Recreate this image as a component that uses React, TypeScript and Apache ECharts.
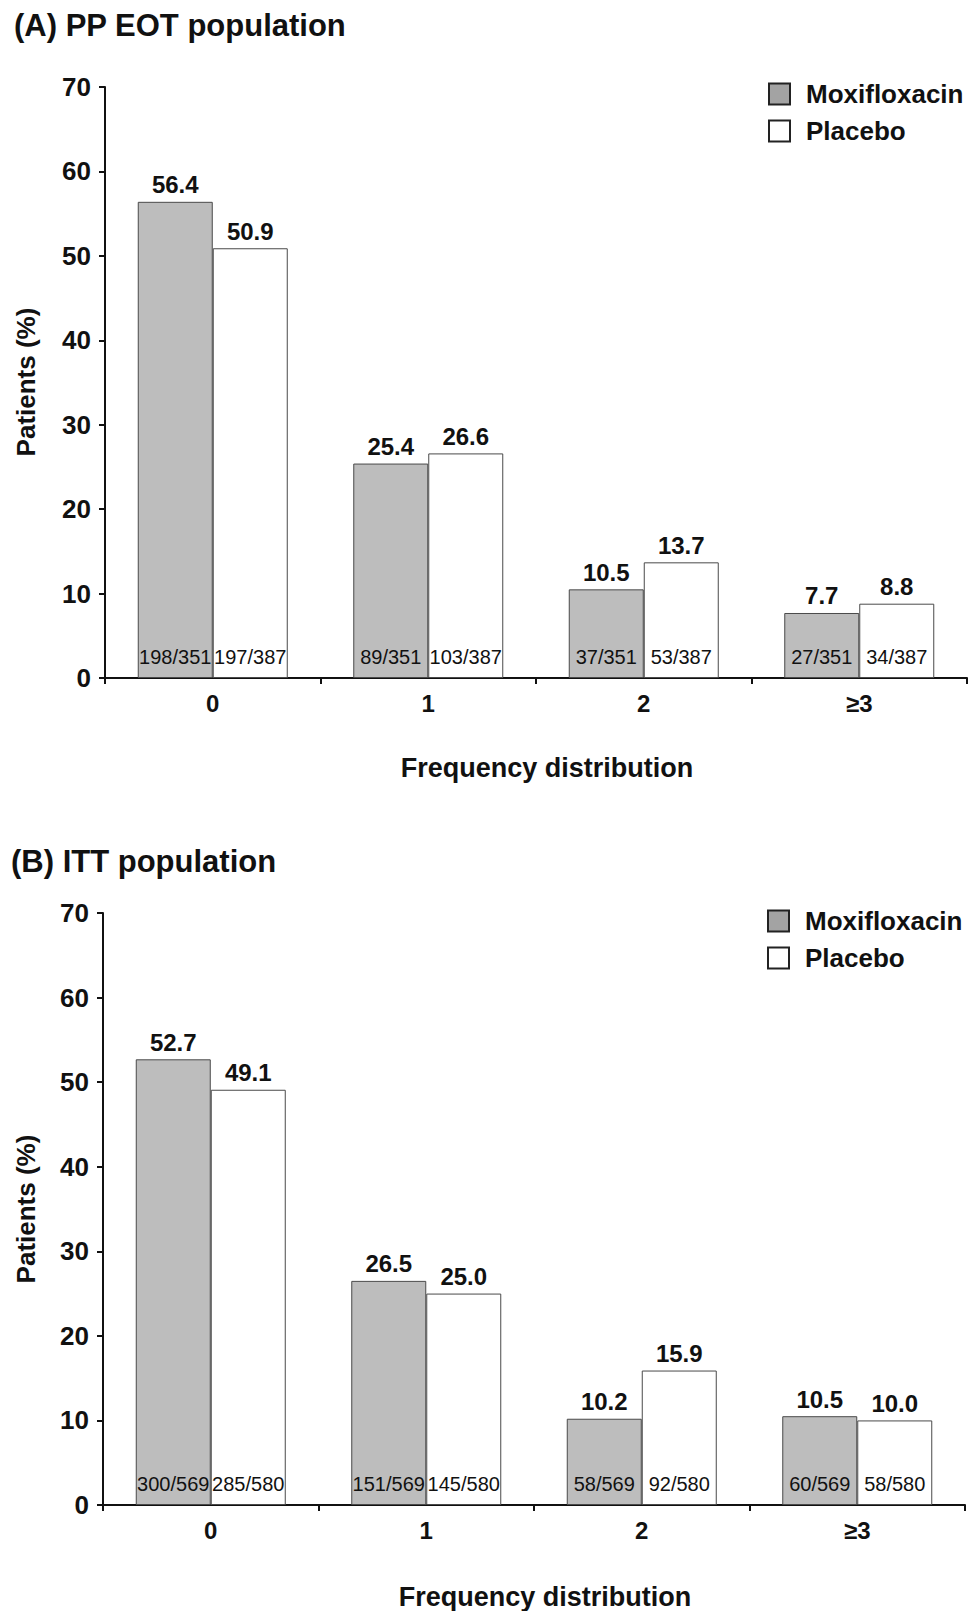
import React, { useEffect, useRef } from "react";
import * as echarts from "echarts";

const categories = ["0", "1", "2", "≥3"];
const yTicks = { min: 0, max: 70, interval: 10 };

const ppMoxi = [56.4, 25.4, 10.5, 7.7];
const ppPlacebo = [50.9, 26.6, 13.7, 8.8];
const ppMoxiN = ["198/351", "89/351", "37/351", "27/351"];
const ppPlaceboN = ["197/387", "103/387", "53/387", "34/387"];

const ittMoxi = [52.7, 26.5, 10.2, 10.5];
const ittPlacebo = [49.1, 25.0, 15.9, 10.0];
const ittMoxiN = ["300/569", "151/569", "58/569", "60/569"];
const ittPlaceboN = ["285/580", "145/580", "92/580", "58/580"];

const titles = ["(A) PP EOT population", "(B) ITT population"];
const seriesNames = ["Moxifloxacin", "Placebo"];

const FONT = "'Liberation Sans', Arial, Helvetica, sans-serif";
const MOXI_FILL = "#bdbdbd";
const BORDER = "#4a4a4a";

export default function App() {
  const ref = useRef<HTMLDivElement>(null);

  useEffect(() => {
    if (!ref.current) return;
    const chart = echarts.init(ref.current, null, { renderer: "svg" });

    const grids = [
      { left: 105, top: 87, width: 862, height: 591 },
      { left: 103, top: 913, width: 862, height: 592 },
    ];

    const xAxes: any[] = [];
    const yAxes: any[] = [];
    grids.forEach((_, gi) => {
      xAxes.push({
        type: "category",
        gridIndex: gi,
        data: categories,
        axisLine: { show: true, lineStyle: { color: "#111", width: 2 } },
        axisTick: { show: true, length: 6, interval: 0, lineStyle: { color: "#111", width: 2 } },
        axisLabel: {
          interval: 0,
          margin: 13,
          fontSize: 24,
          fontWeight: "bold",
          color: "#111",
          fontFamily: FONT,
        },
      });
      xAxes.push({
        type: "category",
        gridIndex: gi,
        data: categories,
        show: false,
      });
      yAxes.push({
        type: "value",
        gridIndex: gi,
        min: yTicks.min,
        max: yTicks.max,
        interval: yTicks.interval,
        splitLine: { show: false },
        axisLine: { show: true, lineStyle: { color: "#111", width: 2 } },
        axisTick: { show: true, length: 6, lineStyle: { color: "#111", width: 2 } },
        axisLabel: {
          margin: 14,
          fontSize: 26,
          fontWeight: "bold",
          color: "#111",
          fontFamily: FONT,
        },
      });
    });

    const sets = [
      { moxi: ppMoxi, plac: ppPlacebo, moxiN: ppMoxiN, placN: ppPlaceboN },
      { moxi: ittMoxi, plac: ittPlacebo, moxiN: ittMoxiN, placN: ittPlaceboN },
    ];

    const series: any[] = [];
    sets.forEach((s, gi) => {
      const common = {
        type: "bar",
        barWidth: 75,
        barGap: "0%",
        yAxisIndex: gi,
      };
      const topLabel = {
        show: true,
        position: "top",
        distance: 5,
        fontSize: 24,
        fontWeight: "bold",
        color: "#111",
        fontFamily: FONT,
        formatter: (p: any) => Number(p.value).toFixed(1),
      };
      series.push({
        ...common,
        name: seriesNames[0],
        xAxisIndex: gi * 2,
        data: s.moxi,
        itemStyle: { color: MOXI_FILL, borderColor: BORDER, borderWidth: 1 },
        label: topLabel,
      });
      series.push({
        ...common,
        name: seriesNames[1],
        xAxisIndex: gi * 2,
        data: s.plac,
        itemStyle: { color: "#ffffff", borderColor: BORDER, borderWidth: 1 },
        label: topLabel,
      });
      const nLabel = (arr: string[]) => ({
        show: true,
        position: "insideBottom",
        distance: 11,
        fontSize: 20,
        color: "#111",
        fontFamily: FONT,
        formatter: (p: any) => arr[p.dataIndex],
      });
      series.push({
        ...common,
        name: seriesNames[0] + " n",
        xAxisIndex: gi * 2 + 1,
        data: s.moxi,
        silent: true,
        itemStyle: { color: "rgba(0,0,0,0)" },
        label: nLabel(s.moxiN),
      });
      series.push({
        ...common,
        name: seriesNames[1] + " n",
        xAxisIndex: gi * 2 + 1,
        data: s.plac,
        silent: true,
        itemStyle: { color: "rgba(0,0,0,0)" },
        label: nLabel(s.placN),
      });
    });

    const legendData = [
      { name: seriesNames[0], itemStyle: { color: "#a3a3a3", borderColor: "#222", borderWidth: 2 } },
      { name: seriesNames[1], itemStyle: { color: "#ffffff", borderColor: "#222", borderWidth: 2 } },
    ];
    const legendCommon = {
      orient: "vertical",
      icon: "rect",
      itemWidth: 21,
      itemHeight: 21,
      itemGap: 11,
      selectedMode: false,
      padding: 0,
      data: legendData,
      textStyle: {
        fontSize: 26,
        fontWeight: "bold",
        color: "#111",
        fontFamily: FONT,
        lineHeight: 21,
        padding: [0, 0, 0, 11],
      },
    };

    const textStyle = (size: number) => ({
      fontSize: size,
      fontWeight: "bold",
      fill: "#111",
      fontFamily: FONT,
    });

    chart.setOption({
      animation: false,
      backgroundColor: "#ffffff",
      grid: grids,
      xAxis: xAxes,
      yAxis: yAxes,
      legend: [
        { ...legendCommon, left: 768, top: 81 },
        { ...legendCommon, left: 767, top: 908 },
      ],
      graphic: [
        {
          type: "text",
          left: 14,
          top: 10,
          style: { text: titles[0], ...textStyle(31) },
        },
        {
          type: "text",
          left: 11,
          top: 846,
          style: { text: titles[1], ...textStyle(31) },
        },
        {
          type: "text",
          x: 547,
          y: 768,
          style: { text: "Frequency distribution", textAlign: "center", textVerticalAlign: "middle", ...textStyle(27) },
        },
        {
          type: "text",
          x: 545,
          y: 1597,
          style: { text: "Frequency distribution", textAlign: "center", textVerticalAlign: "middle", ...textStyle(27) },
        },
        {
          type: "text",
          x: 26,
          y: 382,
          rotation: Math.PI / 2,
          style: { text: "Patients (%)", textAlign: "center", textVerticalAlign: "middle", ...textStyle(26) },
        },
        {
          type: "text",
          x: 26,
          y: 1209,
          rotation: Math.PI / 2,
          style: { text: "Patients (%)", textAlign: "center", textVerticalAlign: "middle", ...textStyle(26) },
        },
      ],
      series,
    });

    return () => chart.dispose();
  }, []);

  return (
    <div
      ref={ref}
      style={{ position: "absolute", left: 0, top: 0, width: 973, height: 1611, background: "#fff" }}
    />
  );
}
